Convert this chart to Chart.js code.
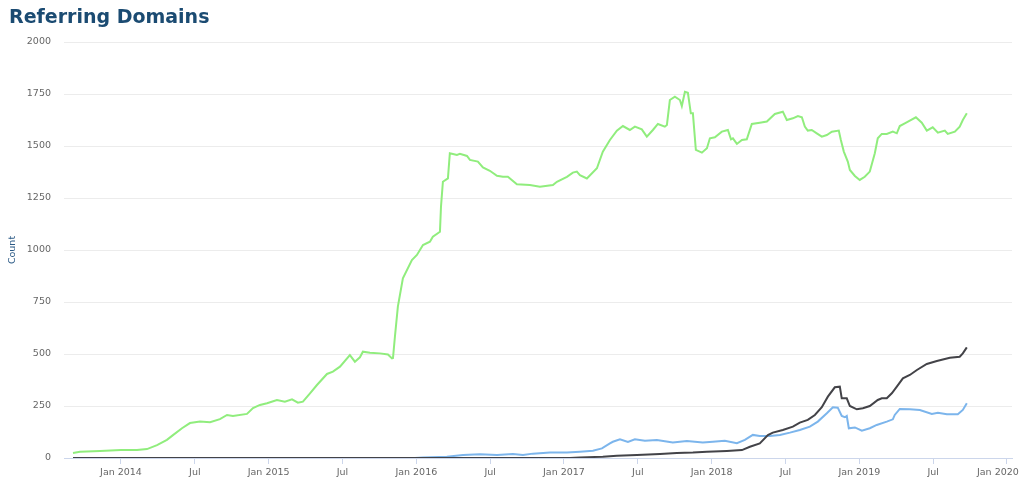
<!DOCTYPE html>
<html>
<head>
<meta charset="utf-8">
<script src="https://cdn.jsdelivr.net/npm/chart.js@4"></script>
<style>
  html, body { margin: 0; padding: 0; background: #fff; }
  #wrap { width: 1024px; height: 486px; }
</style>
</head>
<body>
<div id="wrap"><canvas id="chartCanvas" width="1024" height="486"></canvas></div>
<script>
// x values are decimal years (2014.5 = early July 2014)
const greenYears = [2013.675, 2013.722, 2013.858, 2014.0, 2014.108, 2014.176, 2014.244, 2014.311, 2014.352, 2014.413,
  2014.467, 2014.535, 2014.603, 2014.670, 2014.718, 2014.758, 2014.853, 2014.894, 2014.941, 2014.989,
  2015.056, 2015.110, 2015.158, 2015.198, 2015.232, 2015.280, 2015.327, 2015.395, 2015.435, 2015.483,
  2015.550, 2015.584, 2015.618, 2015.638, 2015.686, 2015.754, 2015.808, 2015.835, 2015.842, 2015.855,
  2015.875, 2015.909, 2015.970, 2016.004, 2016.045, 2016.092, 2016.112, 2016.160, 2016.167, 2016.180,
  2016.214, 2016.227, 2016.275, 2016.295, 2016.343, 2016.363, 2016.417, 2016.451, 2016.498, 2016.546,
  2016.586, 2016.620, 2016.681, 2016.769, 2016.837, 2016.925, 2016.952, 2017.020, 2017.060, 2017.087,
  2017.108, 2017.155, 2017.223, 2017.263, 2017.311, 2017.358, 2017.399, 2017.446, 2017.480, 2017.527,
  2017.561, 2017.602, 2017.636, 2017.683, 2017.697, 2017.717, 2017.751, 2017.785, 2017.798, 2017.819,
  2017.839, 2017.859, 2017.873, 2017.893, 2017.934, 2017.968, 2017.988, 2018.022, 2018.069, 2018.110,
  2018.131, 2018.144, 2018.171, 2018.205, 2018.238, 2018.272, 2018.326, 2018.374, 2018.428, 2018.482,
  2018.509, 2018.550, 2018.584, 2018.611, 2018.631, 2018.651, 2018.678, 2018.712, 2018.746, 2018.780,
  2018.814, 2018.861, 2018.875, 2018.895, 2018.922, 2018.936, 2018.970, 2019.003, 2019.037, 2019.071,
  2019.105, 2019.125, 2019.152, 2019.186, 2019.227, 2019.254, 2019.274, 2019.308, 2019.342, 2019.383,
  2019.423, 2019.457, 2019.497, 2019.532, 2019.579, 2019.599, 2019.647, 2019.680, 2019.701, 2019.728];
const greenValues = [24, 30, 34, 38, 38, 43, 62, 87, 110, 143,
  168, 175, 172, 187, 207, 202, 212, 240, 255, 263,
  279, 271, 282, 266, 271, 311, 351, 404, 415, 439,
  495, 463, 484, 511, 506, 503, 498, 479, 481, 583,
  728, 864, 952, 976, 1024, 1040, 1064, 1088, 1208, 1328,
  1344, 1465, 1457, 1462, 1452, 1433, 1425, 1397, 1381, 1357,
  1352, 1352, 1316, 1312, 1304, 1312, 1328, 1352, 1372, 1377,
  1360, 1344, 1393, 1473, 1529, 1574, 1596, 1577, 1593, 1580,
  1545, 1577, 1606, 1593, 1601, 1721, 1737, 1721, 1692, 1761,
  1756, 1657, 1657, 1481, 1468, 1489, 1537, 1542, 1569, 1577,
  1532, 1537, 1510, 1529, 1532, 1606, 1612, 1618, 1654, 1665,
  1625, 1633, 1644, 1638, 1593, 1574, 1577, 1561, 1545, 1553,
  1569, 1574, 1529, 1473, 1425, 1385, 1356, 1337, 1352, 1377,
  1465, 1537, 1558, 1558, 1569, 1561, 1596, 1609, 1622, 1638,
  1612, 1574, 1590, 1564, 1574, 1558, 1569, 1593, 1625, 1657];

const blueYears = [2013.675, 2015.990, 2016.045, 2016.207, 2016.316, 2016.431, 2016.546, 2016.654, 2016.722, 2016.789,
  2016.905, 2017.020, 2017.108, 2017.196, 2017.257, 2017.311, 2017.331, 2017.379, 2017.433, 2017.480,
  2017.548, 2017.629, 2017.737, 2017.832, 2017.940, 2018.008, 2018.089, 2018.171, 2018.225, 2018.279,
  2018.326, 2018.394, 2018.462, 2018.530, 2018.597, 2018.665, 2018.719, 2018.780, 2018.821, 2018.854,
  2018.881, 2018.902, 2018.915, 2018.929, 2018.970, 2019.017, 2019.071, 2019.118, 2019.186, 2019.227,
  2019.240, 2019.274, 2019.342, 2019.410, 2019.491, 2019.532, 2019.593, 2019.667, 2019.701, 2019.728];
const blueValues = [0, 0, 3, 6, 14, 18, 14, 19, 14, 21,
  27, 26, 30, 35, 46, 70, 78, 90, 77, 90,
  83, 87, 74, 82, 74, 78, 83, 71, 87, 111,
  106, 106, 111, 122, 135, 151, 175, 215, 244, 242,
  202, 196, 202, 143, 147, 131, 143, 159, 175, 186,
  207, 236, 234, 231, 212, 218, 210, 210, 231, 263];

const blackYears = [2013.675, 2017.040, 2017.108, 2017.263, 2017.358, 2017.494, 2017.650, 2017.764, 2017.873, 2017.968,
  2018.103, 2018.205, 2018.259, 2018.326, 2018.381, 2018.414, 2018.482, 2018.550, 2018.597, 2018.651,
  2018.699, 2018.746, 2018.787, 2018.834, 2018.868, 2018.881, 2018.915, 2018.936, 2018.983, 2019.024,
  2019.071, 2019.125, 2019.152, 2019.186, 2019.220, 2019.254, 2019.295, 2019.342, 2019.390, 2019.457,
  2019.525, 2019.613, 2019.680, 2019.701, 2019.728];
const blackValues = [0, 0, 3, 6, 11, 14, 19, 24, 26, 30,
  34, 38, 54, 70, 110, 122, 135, 151, 170, 183,
  207, 244, 295, 340, 343, 287, 287, 250, 234, 239,
  250, 279, 287, 287, 311, 343, 383, 399, 423, 452,
  466, 482, 487, 503, 532];

const xTicks = [2014, 2014.5, 2015, 2015.5, 2016, 2016.5, 2017, 2017.5, 2018, 2018.5, 2019, 2019.5, 2020];
const yTicks = [0, 250, 500, 750, 1000, 1250, 1500, 1750, 2000];

const tickFont = { family: "DejaVu Sans", size: 9.5 };

function toPoints(xs, ys) {
  return xs.map((x, i) => ({ x, y: ys[i] }));
}

function lineSet(label, xs, ys, color) {
  return {
    label,
    data: toPoints(xs, ys),
    borderColor: color,
    backgroundColor: color,
    borderWidth: 2,
    pointRadius: 0,
    tension: 0,
    fill: false
  };
}

// first dataset is drawn on top
const datasets = [
  lineSet("Black", blackYears, blackValues, "#434348"),
  lineSet("Blue", blueYears, blueValues, "#7cb5ec"),
  lineSet("Green", greenYears, greenValues, "#90ed7d")
];

// x labels: "Jan YYYY" at year starts, "Jul" at mid-year; last one nudged left so it stays on the canvas
function xLabel(v) {
  if (!Number.isInteger(v)) return "Jul";
  return v === 2020 ? "Jan 2020      " : "Jan " + v;
}

new Chart(document.getElementById("chartCanvas"), {
  type: "line",
  data: { datasets },
  options: {
    responsive: false,
    animation: false,
    devicePixelRatio: 1,
    layout: { padding: { left: 9, right: 12, top: 0, bottom: 0 } },
    plugins: {
      legend: { display: false },
      tooltip: { enabled: false },
      title: {
        display: true,
        text: "Referring Domains",
        align: "start",
        color: "#1b4b72",
        font: { family: "DejaVu Sans", size: 19, weight: "bold", lineHeight: 1.2 },
        padding: { top: 7, bottom: 12.2 }
      }
    },
    scales: {
      x: {
        type: "linear",
        min: 2013.614,
        max: 2020.034,
        afterBuildTicks: scale => { scale.ticks = xTicks.map(v => ({ value: v })); },
        afterFit: scale => { scale.height = 28; scale.paddingLeft = 0; scale.paddingRight = 0; },
        grid: { drawOnChartArea: false, drawTicks: true, tickLength: 6, color: "#ccd6eb" },
        border: { display: true, color: "#ccd6eb" },
        ticks: {
          color: "#666666",
          font: tickFont,
          padding: 3,
          maxRotation: 0,
          autoSkip: false,
          callback: xLabel
        }
      },
      y: {
        min: 0,
        max: 2000,
        afterBuildTicks: scale => { scale.ticks = yTicks.map(v => ({ value: v })); },
        afterFit: scale => { scale.width = 55; },
        grid: { color: "#ececec", drawTicks: false },
        border: { display: false },
        ticks: { color: "#666666", font: tickFont, padding: 13, callback: v => String(v) },
        title: {
          display: true,
          text: "Count",
          color: "#2b5a86",
          font: { family: "DejaVu Sans", size: 9.5 },
          padding: { top: -2, bottom: 0 }
        }
      }
    }
  }
});
</script>
</body>
</html>
